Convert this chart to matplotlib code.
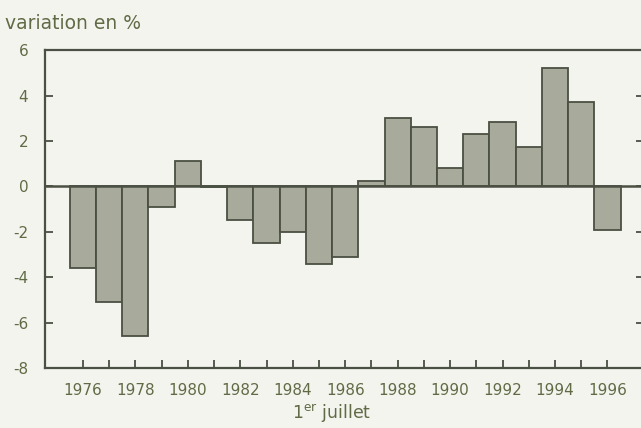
import numpy as np
import matplotlib.pyplot as plt

plt.rcParams['font.family'] = ['DejaVu Sans']
plt.rcParams['mathtext.fontset'] = 'dejavusans'

# Data
years = list(range(1976, 1997))
values = [-3.6, -5.1, -6.6, -0.9, 1.1, -0.05, -1.5, -2.5, -2.0, -3.4, -3.1,
          0.25, 3.0, 2.6, 0.8, 2.3, 2.85, 1.75, 5.2, 3.7, -1.9]
tick_years = list(range(1976, 1997, 2))
yticks = [-8, -6, -4, -2, 0, 2, 4, 6]

bg = '#f4f4ef'
txt = '#606b45'
edge = '#4a5043'

fig = plt.figure(figsize=(6.41, 4.28), dpi=100, facecolor=bg)
ax = fig.add_axes([0.070, 0.140, 0.935, 0.743], facecolor=bg)

ax.bar(years, values, width=1.0, color='#a8aa9c', edgecolor=edge, linewidth=1.3)
ax.axhline(0, color=edge, linewidth=1.8)

ax.set_xlim(1974.55, 1997.4)
ax.set_ylim(-8, 6)

ax.set_yticks(yticks)
ax.set_yticklabels([str(v) for v in yticks])
ax.set_xticks(years)
ax.set_xticklabels([str(y) if y in tick_years else '' for y in years])

ax.tick_params(axis='both', direction='in', length=6, width=1.3, colors=edge,
               labelcolor=txt, labelsize=11)
ax.tick_params(axis='y', right=True, pad=12)
ax.tick_params(axis='x', pad=11)

for s in ax.spines.values():
    s.set_color(edge)
    s.set_linewidth(1.6)

fig.text(0.008, 0.945, 'variation en %', color=txt, fontsize=13.5, va='center', ha='left')
fig.text(0.518, 0.034, r'1$^{\rm er}$ juillet', color=txt, fontsize=12.5, va='center', ha='center')

fig.savefig('out.png', dpi=100, facecolor=bg)
